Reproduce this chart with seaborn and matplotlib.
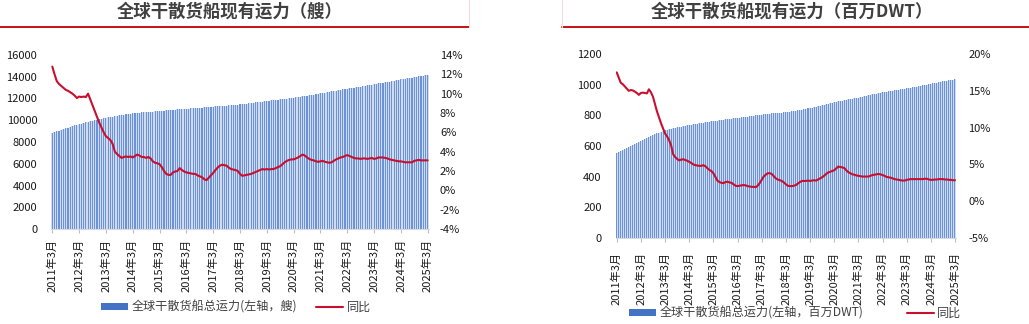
import numpy as np
import pandas as pd
import matplotlib
matplotlib.use("Agg")
import matplotlib.pyplot as plt
import seaborn as sns
from matplotlib.patches import Patch
from matplotlib.lines import Line2D

# ---------------- data ----------------
year_labels = [f"{y}年3月" for y in range(2011, 2026)]

ships = [
    8830, 8900, 8970, 9040, 9110, 9180, 9250, 9320, 9390, 9460, 9530, 9590,
    9650, 9700, 9750, 9800, 9850, 9900, 9950, 9990, 10040, 10090, 10140, 10190,
    10240, 10270, 10300, 10340, 10370, 10400, 10440, 10470, 10510, 10540, 10570, 10610,
    10640, 10660, 10680, 10700, 10720, 10740, 10750, 10770, 10790, 10800, 10820, 10840,
    10850, 10870, 10880, 10900, 10920, 10940, 10960, 10980, 11000, 11010, 11030, 11050,
    11060, 11080, 11090, 11110, 11120, 11140, 11160, 11170, 11190, 11210, 11220, 11240,
    11250, 11270, 11290, 11300, 11320, 11330, 11350, 11370, 11380, 11400, 11420, 11440,
    11460, 11490, 11510, 11540, 11560, 11590, 11610, 11640, 11670, 11690, 11720, 11750,
    11770, 11800, 11820, 11850, 11870, 11900, 11920, 11950, 11970, 12000, 12030, 12050,
    12080, 12110, 12140, 12170, 12200, 12230, 12260, 12290, 12320, 12360, 12390, 12420,
    12480, 12510, 12550, 12580, 12620, 12650, 12690, 12720, 12760, 12790, 12830, 12860,
    12900, 12930, 12970, 13000, 13030, 13070, 13100, 13130, 13170, 13200, 13230, 13270,
    13300, 13340, 13380, 13410, 13450, 13490, 13530, 13560, 13600, 13640, 13680, 13720,
    13760, 13790, 13830, 13860, 13890, 13930, 13960, 13990, 14030, 14060, 14100, 14130,
    14180,
]

ships_yoy = [
    12.8, 12.0, 11.3, 11.0, 10.8, 10.6, 10.4, 10.3, 10.15, 10.0, 9.8, 9.55,
    9.7, 9.65, 9.7, 9.65, 10.0, 9.4, 8.8, 8.2, 7.6, 7.0, 6.5, 6.0,
    5.6, 5.4, 5.2, 4.8, 4.0, 3.75, 3.55, 3.35, 3.45, 3.5, 3.45, 3.5,
    3.4, 3.55, 3.7, 3.6, 3.45, 3.45, 3.35, 3.45, 3.3, 3.0, 2.85, 2.8,
    2.7, 2.4, 2.0, 1.7, 1.6, 1.6, 1.85, 1.95, 2.0, 2.3, 2.1, 1.95,
    1.85, 1.8, 1.75, 1.7, 1.7, 1.55, 1.45, 1.35, 1.15, 1.05, 1.3, 1.55,
    1.8, 2.1, 2.35, 2.55, 2.65, 2.6, 2.55, 2.35, 2.2, 2.15, 2.1, 2.0,
    1.7, 1.5, 1.55, 1.6, 1.65, 1.7, 1.8, 1.9, 2.0, 2.1, 2.2, 2.15,
    2.2, 2.15, 2.2, 2.2, 2.3, 2.4, 2.5, 2.7, 2.9, 3.05, 3.15, 3.2,
    3.2, 3.3, 3.4, 3.55, 3.7, 3.6, 3.4, 3.25, 3.15, 3.1, 3.0, 2.95,
    3.0, 3.05, 2.95, 2.9, 2.85, 2.9, 3.05, 3.2, 3.3, 3.4, 3.45, 3.55,
    3.65, 3.55, 3.45, 3.35, 3.3, 3.3, 3.25, 3.3, 3.3, 3.25, 3.3, 3.35,
    3.25, 3.3, 3.4, 3.4, 3.4, 3.35, 3.3, 3.2, 3.15, 3.1, 3.05, 3.0,
    3.0, 2.95, 2.9, 2.9, 2.9, 2.9, 3.05, 3.1, 3.15, 3.1, 3.1, 3.1,
    3.1,
]

dwt = [
    556, 563, 569, 576, 582, 589, 596, 602, 609, 615, 622, 628,
    635, 641, 647, 653, 659, 665, 670, 676, 682, 688, 693, 699,
    704, 707, 710, 713, 716, 719, 722, 724, 727, 730, 732, 735,
    737, 739, 741, 743, 745, 748, 750, 752, 754, 757, 759, 761,
    763, 765, 766, 768, 770, 771, 773, 775, 777, 778, 780, 781,
    783, 785, 787, 788, 790, 792, 794, 796, 798, 800, 802, 804,
    805, 807, 808, 809, 811, 812, 813, 814, 815, 816, 818, 819,
    820, 822, 824, 827, 829, 831, 834, 836, 838, 841, 843, 846,
    848, 851, 854, 857, 860, 863, 867, 870, 873, 876, 880, 883,
    886, 889, 891, 894, 896, 899, 901, 904, 906, 909, 911, 913,
    915, 918, 921, 924, 927, 930, 933, 936, 939, 942, 945, 948,
    950, 952, 954, 956, 959, 961, 963, 965, 967, 970, 972, 974,
    976, 978, 981, 983, 986, 988, 991, 993, 995, 998, 1000, 1003,
    1005, 1008, 1010, 1013, 1016, 1018, 1021, 1023, 1026, 1028, 1031, 1033,
    1036,
]

dwt_yoy = [
    17.5, 16.8, 16.1, 15.9, 15.6, 15.3, 15.0, 15.1, 15.05, 14.9, 14.7, 14.45,
    14.7, 14.75, 14.7, 14.65, 15.2, 14.8, 14.2, 13.2, 12.2, 11.4, 10.6, 9.9,
    9.2, 8.8, 8.3, 7.6, 6.4, 6.0, 5.75, 5.55, 5.65, 5.7, 5.6, 5.5,
    5.35, 5.2, 5.0, 4.9, 4.85, 4.8, 4.8, 4.9, 4.75, 4.5, 4.25, 4.1,
    3.8, 3.3, 2.8, 2.6, 2.5, 2.45, 2.6, 2.65, 2.55, 2.5, 2.3, 2.1,
    2.05, 2.1, 2.15, 2.2, 2.15, 2.05, 2.0, 1.95, 1.95, 1.9, 2.1, 2.45,
    2.9, 3.35, 3.6, 3.8, 3.8, 3.7, 3.4, 3.1, 2.95, 2.85, 2.75, 2.55,
    2.3, 2.1, 2.05, 2.05, 2.1, 2.2, 2.4, 2.6, 2.75, 2.75, 2.75, 2.8,
    2.75, 2.8, 2.85, 2.8, 2.95, 3.1, 3.25, 3.45, 3.7, 3.9, 4.0, 4.1,
    4.2, 4.45, 4.7, 4.65, 4.6, 4.5, 4.2, 3.95, 3.8, 3.65, 3.6, 3.5,
    3.45, 3.4, 3.35, 3.35, 3.35, 3.35, 3.45, 3.55, 3.6, 3.65, 3.7, 3.65,
    3.55, 3.45, 3.3, 3.25, 3.2, 3.1, 3.0, 2.95, 2.9, 2.85, 2.8, 2.8,
    2.9, 2.95, 3.0, 3.0, 3.0, 3.0, 3.0, 3.0, 3.0, 3.05, 3.05, 2.95,
    2.9, 2.9, 2.95, 2.95, 3.0, 3.0, 3.0, 2.95, 2.95, 2.9, 2.9, 2.85,
    2.85,
]

n = len(ships)
assert n == len(ships_yoy) == len(dwt) == len(dwt_yoy) == 169
month_idx = np.arange(n)
tick_pos = np.arange(0, n, 12)

# ---------------- style ----------------
sns.set_theme(style="white")
plt.rcParams["font.family"] = ["Noto Sans CJK SC", "DejaVu Sans"]
plt.rcParams["axes.unicode_minus"] = False

BAR_C = "#4472C4"
BAR_STRIPE = "#6C93D8"
BAR_GAP = "#CFDBF1"
LINE_C = "#C8102E"
RULE_C = "#C00000"
TXT_C = "#1A1A1A"

W, H = 1029, 324
fig = plt.figure(figsize=(W / 100, H / 100), dpi=100)


def px_axes(x0, x1, y_top, y_bot):
    return fig.add_axes([x0 / W, 1 - y_bot / H, (x1 - x0) / W, (y_bot - y_top) / H])


def draw_panel(ax, bars, yoy, ylim_l, yticks_l, ylim_r, yticks_r, lpad, rpad, xpad):
    df = pd.DataFrame({"m": month_idx, "v": bars, "r": yoy})
    # light fill between the thin column stripes (as in the rasterised original)
    sns.barplot(data=df, x="m", y="v", color=BAR_GAP, width=1.0, native_scale=True,
                saturation=1, linewidth=0, ax=ax)
    sns.barplot(data=df, x="m", y="v", color=BAR_STRIPE, width=0.5, native_scale=True,
                saturation=1, linewidth=0, ax=ax)
    ax.set_xlim(-0.5, n - 0.5)
    ax.set_ylim(*ylim_l)
    ax.set_yticks(yticks_l)
    ax.set_yticklabels([str(v) for v in yticks_l])
    ax.set_xticks(tick_pos)
    ax.set_xticklabels(year_labels, rotation=90, fontsize=8, color=TXT_C)
    ax.tick_params(axis="x", length=3, width=0.8, color="#BFBFBF", pad=xpad, bottom=True)
    ax.tick_params(axis="y", length=0, labelsize=8, labelcolor=TXT_C, pad=lpad)
    ax.set_xlabel("")
    ax.set_ylabel("")
    for s in ["top", "left", "right"]:
        ax.spines[s].set_visible(False)
    ax.spines["bottom"].set_color("#D9D9D9")
    ax.spines["bottom"].set_linewidth(0.8)

    ax2 = ax.twinx()
    sns.lineplot(data=df, x="m", y="r", color=LINE_C, linewidth=1.5, ax=ax2)
    ax2.set_ylim(*ylim_r)
    ax2.set_yticks(yticks_r)
    ax2.set_yticklabels([f"{v}%" for v in yticks_r])
    ax2.tick_params(axis="y", length=0, labelsize=8, labelcolor=TXT_C, pad=rpad)
    ax2.set_ylabel("")
    for s in ax2.spines.values():
        s.set_visible(False)
    ax2.grid(False)
    ax.grid(False)
    return ax2


# left panel (number of ships)
axL = px_axes(51.2, 428.8, 55, 229)
draw_panel(axL, ships, ships_yoy, (0, 16000), list(range(0, 16001, 2000)),
           (-4, 14), list(range(-4, 15, 2)), lpad=10, rpad=8, xpad=4)

# right panel (million DWT)
axR = px_axes(615.7, 956.0, 54, 238)
draw_panel(axR, dwt, dwt_yoy, (0, 1200), list(range(0, 1201, 200)),
           (-5, 20), list(range(-5, 21, 5)), lpad=10, rpad=9, xpad=7)

# titles
fig.text(229.5 / W, 1 - 12 / H, "全球干散货船现有运力（艘）", ha="center", va="center",
         fontsize=12.5, fontweight="bold", color="#404040")
fig.text(792 / W, 1 - 12 / H, "全球干散货船现有运力（百万DWT）", ha="center", va="center",
         fontsize=12.5, fontweight="bold", color="#404040")

# header rules
fig.add_artist(Line2D([0, 469 / W], [1 - 27 / H] * 2, color=RULE_C, lw=1.3))
fig.add_artist(Line2D([469 / W] * 2, [1 - 27 / H, 1], color="#F2DCDB", lw=0.8))
fig.add_artist(Line2D([562 / W, 1], [1 - 27 / H] * 2, color=RULE_C, lw=1.3))
fig.add_artist(Line2D([562 / W] * 2, [1 - 27 / H, 1], color="#F2DCDB", lw=0.8))

# legends
hL = [Patch(facecolor=BAR_C, edgecolor="none"), Line2D([], [], color=LINE_C, lw=1.5)]
fig.legend(hL, ["全球干散货船总运力(左轴，艘)", "同比"], loc="center",
           bbox_to_anchor=(236 / W, 1 - 307 / H), ncol=2, frameon=False, fontsize=8.7,
           handlelength=2.2, handleheight=0.5, handletextpad=0.3, columnspacing=1.6,
           labelcolor="#404040", borderpad=0, borderaxespad=0)
fig.legend(hL, ["全球干散货船总运力(左轴，百万DWT)", "同比"], loc="center",
           bbox_to_anchor=(795.5 / W, 1 - 313 / H), ncol=2, frameon=False, fontsize=8.7,
           handlelength=2.2, handleheight=0.5, handletextpad=0.3, columnspacing=3.6,
           labelcolor="#404040", borderpad=0, borderaxespad=0)

fig.savefig("out.png", dpi=100, facecolor="white")
